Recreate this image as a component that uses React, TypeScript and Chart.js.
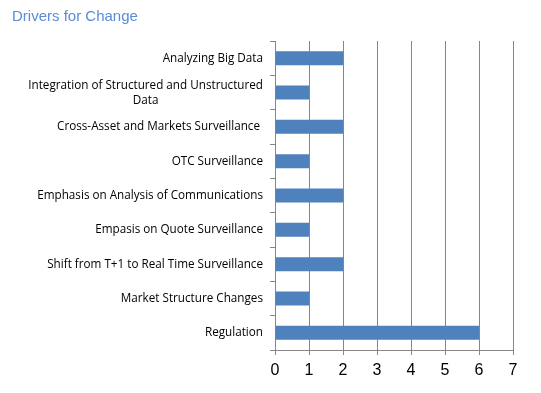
import React, { useEffect, useRef } from "react";
import { Chart, registerables } from "chart.js";

Chart.register(...registerables);

const titleText = "Drivers for Change";
const categories: (string | string[])[] = [
  "Analyzing Big Data",
  ["Integration of Structured and Unstructured", "Data"],
  "Cross-Asset and Markets Surveillance ",
  "OTC Surveillance",
  "Emphasis on Analysis of Communications",
  "Empasis on Quote Surveillance",
  "Shift from T+1 to Real Time Surveillance",
  "Market Structure Changes",
  "Regulation",
];
const values = [2, 1, 2, 1, 2, 1, 2, 1, 6];
const xMin = 0;
const xMax = 7;

const labelSize = 11.7;
const labelFamily = "'Open Sans', Arial, sans-serif";

const titlePlugin = {
  id: "fixedTitle",
  afterDraw(chart: any) {
    const ctx = chart.ctx;
    ctx.save();
    ctx.font = "15px 'Liberation Sans', Arial, sans-serif";
    ctx.fillStyle = "#5A8CD6";
    ctx.textBaseline = "alphabetic";
    ctx.textAlign = "left";
    ctx.fillText(titleText, 12, 21);
    ctx.restore();
  },
};

// draws multi-line category labels as a centred block (right edge at the tick padding)
const multiLinePlugin = {
  id: "multiLineLabels",
  afterDraw(chart: any) {
    const scale = chart.scales.y;
    const ctx = chart.ctx;
    ctx.save();
    ctx.font = `${labelSize}px ${labelFamily}`;
    ctx.fillStyle = "#000";
    ctx.textBaseline = "middle";
    ctx.textAlign = "center";
    const right = scale.right - 5 - 7;
    categories.forEach((lab, i) => {
      if (!Array.isArray(lab)) return;
      const widths = lab.map((l) => ctx.measureText(l).width);
      const maxW = Math.max(...widths);
      const cx = right - maxW / 2;
      const y = scale.getPixelForTick(i) + 1;
      const lh = 15;
      const y0 = y - ((lab.length - 1) * lh) / 2;
      lab.forEach((l, k) => ctx.fillText(l, cx, y0 + k * lh));
    });
    ctx.restore();
  },
};

export default function App() {
  const ref = useRef<HTMLCanvasElement | null>(null);
  useEffect(() => {
    if (!ref.current) return;
    const chart = new Chart(ref.current, {
      type: "bar",
      data: {
        labels: categories,
        datasets: [
          {
            data: values,
            backgroundColor: "#4F81BD",
            borderWidth: 0,
            categoryPercentage: 1,
            barPercentage: 0.41,
          },
        ],
      },
      plugins: [titlePlugin, multiLinePlugin],
      options: {
        indexAxis: "y",
        animation: false,
        responsive: true,
        maintainAspectRatio: false,
        layout: { padding: { left: 0, right: 28, top: 41, bottom: 0 } },
        plugins: {
          legend: { display: false },
          title: { display: false },
          tooltip: { enabled: false },
        },
        scales: {
          x: {
            min: xMin,
            max: xMax,
            ticks: {
              stepSize: 1,
              color: "#000",
              font: { size: 16, family: "'Liberation Sans', Arial, sans-serif" },
              padding: 6,
            },
            grid: {
              color: "#868686",
              tickLength: 5,
              drawOnChartArea: true,
            },
            border: { color: "#868686" },
            afterFit: (s: any) => {
              s.height = 43;
            },
          },
          y: {
            offset: true,
            ticks: {
              color: (c: any) => (Array.isArray(categories[c.index]) ? "rgba(0,0,0,0)" : "#000"),
              font: { size: labelSize, family: labelFamily },
              padding: 7,
              autoSkip: false,
            },
            grid: {
              offset: true,
              drawOnChartArea: false,
              color: "#868686",
              tickLength: 5,
            },
            border: { color: "#868686" },
            afterFit: (s: any) => {
              s.width = 275;
            },
          },
        },
      },
    });
    return () => chart.destroy();
  }, []);
  return (
    <div style={{ position: "fixed", left: 0, top: 0, width: 541, height: 393, background: "#fff" }}>
      <canvas ref={ref} />
    </div>
  );
}
